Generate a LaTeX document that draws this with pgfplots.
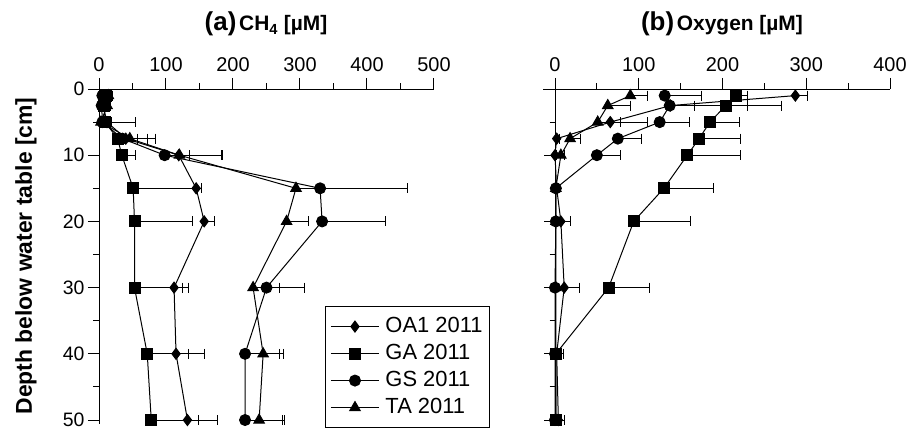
\documentclass[border=0pt]{standalone}
\usepackage{fontspec}
\setmainfont{Liberation Sans}
\usepackage{pgfplots}
\usepackage{pgfplotstable}
\pgfplotsset{compat=1.18}

\pgfplotstableread{
d x e
1 8 12
2.5 6 4
5 12 6
7.5 40 18
10 119 16
15 145 8
20 157 15
30 112 22
40 115 42
50 132 45
}\cOA
\pgfplotstableread{
d x e
1 10 10
2.5 8 5
5 9 46
7.5 28 12
10 34 20
15 51 94
20 53 87
30 53 72
40 72 62
50 78 71
}\cGA
\pgfplotstableread{
d x e
1 5 6
2.5 4 4
5 5 8
7.5 35 37
10 98 85
15 330 130
20 333 95
30 250 56
40 218 51
50 218 56
}\cGS
\pgfplotstableread{
d x e
1 14 6
2.5 12 5
5 3 6
7.5 46 38
10 120 65
15 294 36
20 280 32
30 230 40
40 245 30
50 239 38
}\cTA

\pgfplotstableread{
d x e
1 287 15
2.5 138 92
5 66 45
7.5 2 3
10 0 2
15 2 2
20 7 12
30 11 18
40 2 8
50 4 7
}\oOA
\pgfplotstableread{
d x e
1 216 14
2.5 204 67
5 185 35
7.5 172 49
10 158 64
15 130 59
20 94 68
30 64 49
40 1 3
50 1 3
}\oGA
\pgfplotstableread{
d x e
1 131 44
2.5 137 30
5 125 35
7.5 75 28
10 50 28
15 1 2
20 1 2
30 0 2
40 0 2
50 0 2
}\oGS
\pgfplotstableread{
d x e
1 90 21
2.5 63 27
5 51 27
7.5 18 13
10 7 4
15 1 1
20 1 1
30 1 1
40 1 1
50 1 1
}\oTA

\pgfplotsset{
 panel/.style={
  scale only axis, width=335bp, height=335bp,
  y dir=reverse, ymin=0, ymax=50.6,
  axis x line*=top, axis y line*=left,
  axis line style={-, line width=1bp},
  tick align=outside,
  major tick length=11bp, minor tick length=5.5bp,
  ytick={0,10,...,50}, minor ytick={5,15,...,45},
  tick style={line width=1bp, black},
  /pgf/number format/assume math mode=true,
  tick label style={font=\fontsize{20}{20}\selectfont},
  xticklabel style={yshift=3bp},
  yticklabel style={inner ysep=0pt, font=\fontsize{19.5}{19.5}\selectfont},
  clip=false,
  every axis plot/.append style={line width=1bp, black},
 },
 eb/.style={error bars/.cd, x dir=plus, x explicit,
   error bar style={line width=1bp, solid},
   error mark options={mark size=5bp, line width=1bp, rotate=90}},
 sOA/.style={mark=diamond*, mark size=5.5bp, mark options={solid, fill=black}},
 sGA/.style={mark=square*, mark size=5.5bp, mark options={solid, fill=black}},
 sGS/.style={mark=*, mark size=5.5bp, mark options={solid, fill=black}},
 sTA/.style={mark=triangle*, mark size=6bp, mark options={solid, fill=black}},
}

\begin{document}
\begin{tikzpicture}
\path[use as bounding box] (0,0) rectangle (917bp,432bp);

\begin{axis}[panel, at={(99bp,343bp)}, anchor=north west,
  xmin=0, xmax=500, xtick={0,100,...,500}, minor xtick={50,150,...,450},
  legend style={at={(0.6746,0.352)}, anchor=north west, draw=black, line width=1bp,
    inner xsep=5bp, inner ysep=8bp, row sep=3bp, column sep=4bp,
    font=\fontsize{22}{24}\selectfont, cells={anchor=west},
    nodes={inner sep=2bp, text height=16bp, text depth=4bp}},
  legend image code/.code={\draw[mark repeat=2, mark phase=2, #1] plot coordinates {(0bp,0bp) (24bp,0bp) (48bp,0bp)};},
]
\addplot[sOA, eb] table[x=x, y=d, x error=e] {\cOA};
\addplot[sGA, eb] table[x=x, y=d, x error=e] {\cGA};
\addplot[sGS, eb] table[x=x, y=d, x error=e] {\cGS};
\addplot[sTA, eb] table[x=x, y=d, x error=e] {\cTA};
\legend{OA1 2011, GA 2011, GS 2011, TA 2011}
\draw[line width=1bp] (axis cs:0,0) -- ++(-9bp,0bp);
\end{axis}

\begin{axis}[panel, at={(555bp,343bp)}, anchor=north west,
  width=335bp, xmin=0, xmax=400, xtick={0,100,...,400}, minor xtick={50,150,...,350},
  yticklabels={},
]
\addplot[sOA, eb] table[x=x, y=d, x error=e] {\oOA};
\addplot[sGA, eb] table[x=x, y=d, x error=e] {\oGA};
\addplot[sGS, eb] table[x=x, y=d, x error=e] {\oGS};
\addplot[sTA, eb] table[x=x, y=d, x error=e] {\oTA};
\draw[line width=1bp] (axis cs:0,0) -- ++(-12bp,0bp);
\end{axis}

\node[anchor=base, inner sep=0pt] at (266bp,401bp) {{\fontsize{26}{26}\selectfont\bfseries (a)} {\fontsize{21}{21}\selectfont\bfseries CH\textsubscript{4} [µM]}};
\node[anchor=base, inner sep=0pt] at (722bp,401bp) {{\fontsize{26}{26}\selectfont\bfseries (b)} {\fontsize{21}{21}\selectfont\bfseries Oxygen [µM]}};
\node[rotate=90, inner sep=0pt, font=\fontsize{23}{23}\selectfont\bfseries] at (26bp,176bp) {Depth below water table [cm]};
\end{tikzpicture}
\end{document}
